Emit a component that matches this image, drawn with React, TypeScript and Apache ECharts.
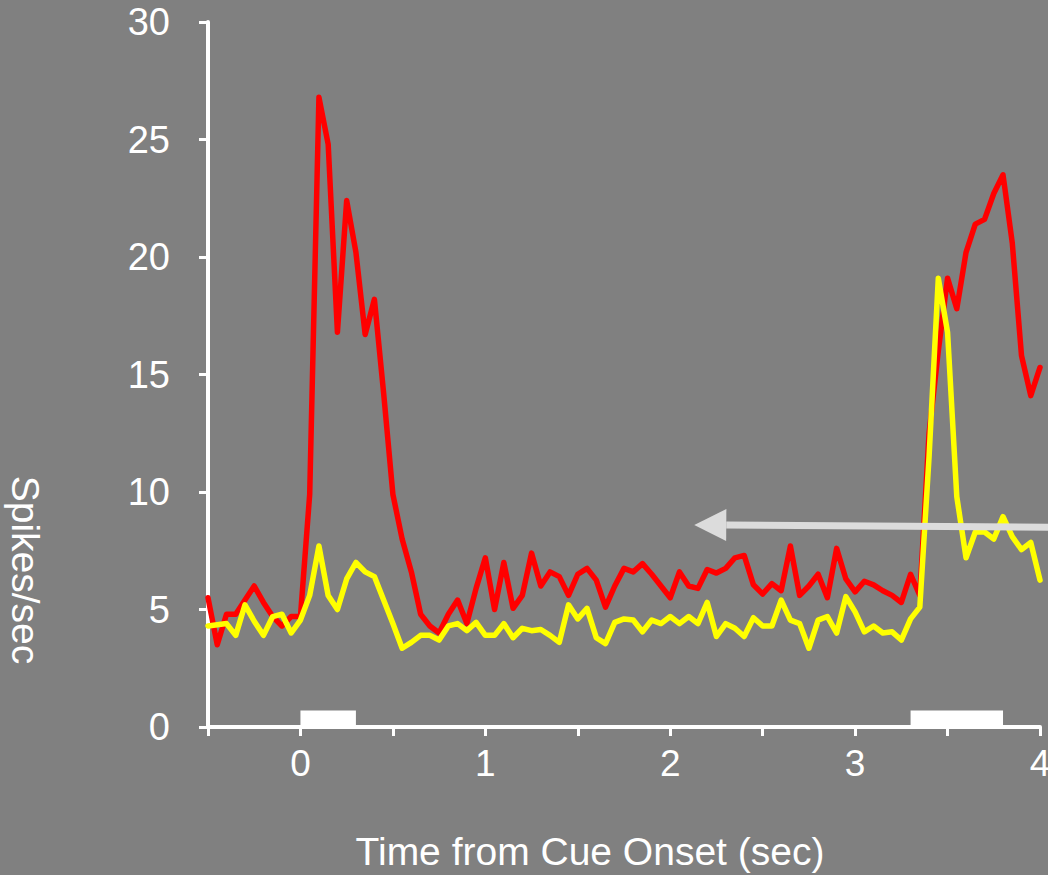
import React, { useEffect, useRef } from "react";
import * as echarts from "echarts";

// Time bins (sec from cue onset), 50 ms bins
const TIME = [
  -0.5, -0.45, -0.4, -0.35, -0.3, -0.25, -0.2, -0.15, -0.1, -0.05,
  0, 0.05, 0.1, 0.15, 0.2, 0.25, 0.3, 0.35, 0.4, 0.45,
  0.5, 0.55, 0.6, 0.65, 0.7, 0.75, 0.8, 0.85, 0.9, 0.95,
  1, 1.05, 1.1, 1.15, 1.2, 1.25, 1.3, 1.35, 1.4, 1.45,
  1.5, 1.55, 1.6, 1.65, 1.7, 1.75, 1.8, 1.85, 1.9, 1.95,
  2, 2.05, 2.1, 2.15, 2.2, 2.25, 2.3, 2.35, 2.4, 2.45,
  2.5, 2.55, 2.6, 2.65, 2.7, 2.75, 2.8, 2.85, 2.9, 2.95,
  3, 3.05, 3.1, 3.15, 3.2, 3.25, 3.3, 3.35, 3.4, 3.45,
  3.5, 3.55, 3.6, 3.65, 3.7, 3.75, 3.8, 3.85, 3.9, 3.95,
  4,
];

// Red trace (spikes/sec)
const RED = [
  5.5, 3.5, 4.8, 4.8, 5.4, 6.0, 5.3, 4.7, 4.3, 4.7,
  4.7, 9.9, 26.8, 24.8, 16.8, 22.4, 20.2, 16.7, 18.2, 14.2,
  9.9, 8.0, 6.6, 4.8, 4.3, 4.0, 4.8, 5.4, 4.4, 5.9,
  7.2, 5.0, 7.0, 5.05, 5.6, 7.4, 6.0, 6.6, 6.4, 5.6,
  6.5, 6.75, 6.25, 5.1, 6.0, 6.75, 6.6, 6.95, 6.5, 6.0,
  5.5, 6.6, 6.0, 5.9, 6.7, 6.55, 6.75, 7.2, 7.3, 6.05,
  5.66, 6.1, 5.8, 7.7, 5.6, 6.0, 6.5, 5.5, 7.6, 6.3,
  5.75, 6.2, 6.05, 5.8, 5.6, 5.3, 6.5, 5.6, 12.5, 16.0,
  19.1, 17.8, 20.2, 21.4, 21.6, 22.7, 23.5, 20.6, 15.8, 14.1,
  15.3,
];

// Yellow trace (spikes/sec)
const YELLOW = [
  4.3, 4.35, 4.4, 3.9, 5.2, 4.5, 3.9, 4.7, 4.8, 4.0,
  4.55, 5.6, 7.7, 5.6, 5.0, 6.3, 7.0, 6.6, 6.4, 5.4,
  4.4, 3.35, 3.6, 3.9, 3.9, 3.7, 4.3, 4.4, 4.1, 4.45,
  3.9, 3.9, 4.4, 3.8, 4.2, 4.1, 4.15, 3.9, 3.6, 5.2,
  4.6, 5.05, 3.8, 3.55, 4.45, 4.6, 4.55, 4.05, 4.55, 4.4,
  4.7, 4.4, 4.7, 4.4, 5.3, 3.85, 4.4, 4.2, 3.85, 4.65,
  4.3, 4.3, 5.4, 4.55, 4.4, 3.35, 4.55, 4.7, 4.0, 5.55,
  4.9, 4.05, 4.3, 4.0, 4.05, 3.7, 4.6, 5.1, 11.5, 19.1,
  16.8, 9.8, 7.2, 8.3, 8.3, 8.0, 8.95, 8.1, 7.55, 7.85,
  6.25,
];

const X_TICK_LABELS = ["0", "1", "2", "3", "4"];
const CUE_BARS = [
  [0, 0.3],
  [3.3, 3.8],
];
const CUE_BAR_HEIGHT = 0.7;
const ARROW_FROM = [4.1, 8.5];
const ARROW_TO = [2.13, 8.6];

const FONT = "'Liberation Sans', Arial, sans-serif";

export default function App() {
  const ref = useRef<HTMLDivElement>(null);

  useEffect(() => {
    const el = ref.current;
    if (!el) return;
    const chart = echarts.init(el, null, { renderer: "svg" });

    const redData = TIME.map((t, i) => [t, RED[i]]);
    const yellowData = TIME.map((t, i) => [t, YELLOW[i]]);

    chart.setOption({
      animation: false,
      backgroundColor: "#808080",
      grid: {
        left: 208,
        right: 8,
        top: 22,
        bottom: 148,
        containLabel: false,
        outerBoundsMode: "none",
      },
      xAxis: {
        type: "value",
        min: -0.5,
        max: 4,
        interval: 0.5,
        splitLine: { show: false },
        axisLine: { show: true, onZero: false, lineStyle: { color: "#ffffff", width: 4 } },
        axisTick: { show: true, length: 9, lineStyle: { color: "#ffffff", width: 3 } },
        axisLabel: {
          color: "#ffffff",
          fontSize: 37,
          fontFamily: FONT,
          margin: 18,
          showMinLabel: true,
          showMaxLabel: true,
          hideOverlap: false,
          formatter: (v: number) => {
            const s = String(Math.round(v * 100) / 100);
            return X_TICK_LABELS.includes(s) ? s : "";
          },
        },
      },
      yAxis: {
        type: "value",
        min: 0,
        max: 30,
        interval: 5,
        splitLine: { show: false },
        axisLine: { show: true, onZero: false, lineStyle: { color: "#ffffff", width: 4 } },
        axisTick: { show: true, length: 9, lineStyle: { color: "#ffffff", width: 3 } },
        axisLabel: {
          color: "#ffffff",
          fontSize: 38,
          fontFamily: FONT,
          margin: 38,
        },
      },
      series: [
        {
          type: "line",
          data: redData,
          showSymbol: false,
          symbol: "none",
          lineStyle: { color: "#ff0000", width: 5.5, join: "round", cap: "round" },
          z: 3,
          markArea: {
            silent: true,
            itemStyle: { color: "#ffffff", opacity: 1 },
            data: CUE_BARS.map(([a, b]) => [
              { xAxis: a, yAxis: 0 },
              { xAxis: b, yAxis: CUE_BAR_HEIGHT },
            ]),
          },
        },
        {
          type: "line",
          data: yellowData,
          showSymbol: false,
          symbol: "none",
          lineStyle: { color: "#ffff00", width: 5.5, join: "round", cap: "round" },
          z: 4,
        },
      ],
    });

    const tip = chart.convertToPixel({ gridIndex: 0 }, ARROW_TO) as number[];
    const tail = chart.convertToPixel({ gridIndex: 0 }, ARROW_FROM) as number[];
    const dx = tail[0] - tip[0];
    const dy = tail[1] - tip[1];
    const len = Math.sqrt(dx * dx + dy * dy);
    const ux = dx / len;
    const uy = dy / len;
    const nx = -uy;
    const ny = ux;
    const headLen = 32;
    const headHalf = 16;
    const back = [tip[0] + ux * headLen, tip[1] + uy * headLen];

    chart.setOption({
      graphic: [
        {
          type: "line",
          shape: { x1: tail[0], y1: tail[1], x2: back[0], y2: back[1] },
          style: { stroke: "#dcdcdc", lineWidth: 7 },
          z: 10,
        },
        {
          type: "polygon",
          shape: {
            points: [
              [tip[0], tip[1]],
              [back[0] + nx * headHalf, back[1] + ny * headHalf],
              [back[0] - nx * headHalf, back[1] - ny * headHalf],
            ],
          },
          style: { fill: "#dcdcdc" },
          z: 10,
        },
        {
          type: "text",
          x: 590,
          y: 851,
          style: {
            text: "Time from Cue Onset (sec)",
            fill: "#ffffff",
            fontSize: 39,
            fontFamily: FONT,
            textAlign: "center",
            textVerticalAlign: "middle",
          },
        },
        {
          type: "text",
          x: 25,
          y: 570,
          rotation: -Math.PI / 2,
          style: {
            text: "Spikes/sec",
            fill: "#ffffff",
            fontSize: 39,
            fontFamily: FONT,
            textAlign: "center",
            textVerticalAlign: "middle",
          },
        },
      ],
    });

    return () => chart.dispose();
  }, []);

  return (
    <div
      ref={ref}
      style={{ position: "fixed", left: 0, top: 0, width: 1048, height: 875 }}
    />
  );
}
